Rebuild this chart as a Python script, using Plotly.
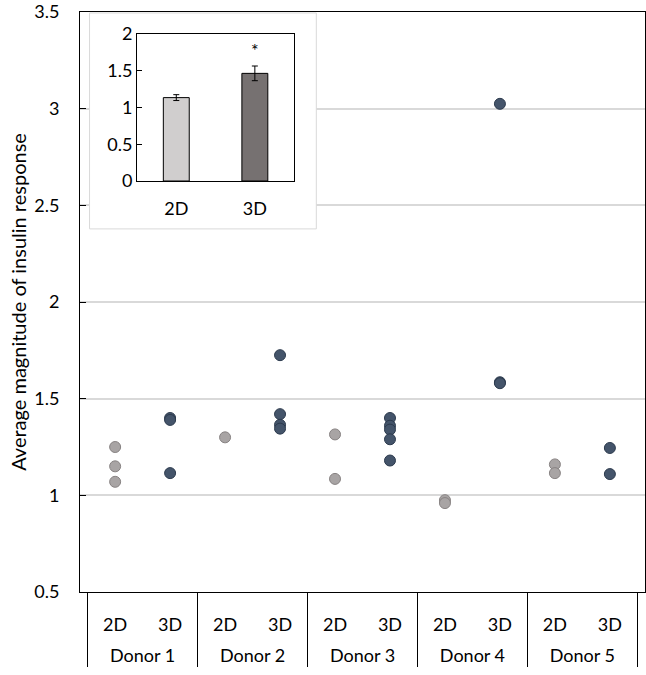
import plotly.graph_objects as go

# main chart: individual replicate values per donor and culture type
donors = ["Donor 1", "Donor 2", "Donor 3", "Donor 4", "Donor 5"]
kinds = ["2D", "3D"]
vals_2d = {
    "Donor 1": [1.25, 1.15, 1.07],
    "Donor 2": [1.30],
    "Donor 3": [1.315, 1.085],
    "Donor 4": [0.975, 0.96],
    "Donor 5": [1.16, 1.115],
}
vals_3d = {
    "Donor 1": [1.40, 1.39, 1.115],
    "Donor 2": [1.725, 1.42, 1.365, 1.345],
    "Donor 3": [1.40, 1.36, 1.34, 1.29, 1.18],
    "Donor 4": [3.025, 1.585, 1.58],
    "Donor 5": [1.245, 1.11],
}

# inset: mean response with error
inset_cats = ["2D", "3D"]
inset_means = [1.135, 1.465]
inset_err = [0.04, 0.1]

FONT = "Lato"

# trailing blank line gives the donor row more room below the 2D/3D row
inner_lbl = {k: k + "<br> " for k in kinds}


def points(vals, kind):
    outer, inner, ys = [], [], []
    for d in donors:
        for v in vals[d]:
            outer.append(d)
            inner.append(inner_lbl[kind])
            ys.append(v)
    return [outer, inner], ys


fig = go.Figure()

# invisible trace to fix the category order 2D,3D within each donor
order_x = [[d for d in donors for _ in kinds],
           [inner_lbl[k] for k in kinds] * len(donors)]
fig.add_trace(go.Scatter(x=order_x, y=[None] * len(order_x[0]),
                         mode="markers", showlegend=False, hoverinfo="skip"))

x2, y2 = points(vals_2d, "2D")
fig.add_trace(go.Scatter(x=x2, y=y2, mode="markers", showlegend=False,
                         marker=dict(size=11, color="#A8A4A4",
                                     line=dict(color="#878282", width=1))))
x3, y3 = points(vals_3d, "3D")
fig.add_trace(go.Scatter(x=x3, y=y3, mode="markers", showlegend=False,
                         marker=dict(size=11, color="#44546A",
                                     line=dict(color="#2C3A4D", width=1))))

# inset bar chart
fig.add_trace(go.Bar(x=inset_cats, y=inset_means, xaxis="x2", yaxis="y2",
                     showlegend=False,
                     marker=dict(color=["#D0CECE", "#767171"],
                                 line=dict(color="black", width=1)),
                     error_y=dict(type="data", array=inset_err, color="black",
                                  thickness=1, width=3)))

fig.add_annotation(x=1, y=1.78, xref="x2", yref="y2", text="*",
                   showarrow=False, font=dict(size=18, color="black"))

# white frame behind the inset hiding the main gridlines
fig.add_shape(type="rect", xref="x", yref="y",
              x0=-0.465, x1=3.66, y0=2.378, y1=3.495,
              fillcolor="white", line=dict(color="#D9D9D9", width=1),
              layer="between")

fig.update_layout(
    width=646, height=675,
    margin=dict(l=80, r=1, t=12, b=83),
    paper_bgcolor="white", plot_bgcolor="white",
    font=dict(family=FONT, size=18, color="black"),
    bargap=0.67,
    xaxis=dict(type="multicategory", domain=[0, 1], showline=True,
               linecolor="black", linewidth=1, mirror=True,
               showgrid=False, zeroline=False, automargin=False,
               ticklabelstandoff=16,
               dividercolor="black", dividerwidth=1, showdividers=True,
               tickfont=dict(size=18)),
    yaxis=dict(range=[0.5, 3.5], dtick=0.5, showline=True, linecolor="black",
               linewidth=1, mirror=True, showgrid=True, gridcolor="#D9D9D9",
               gridwidth=1.5, zeroline=False, ticks="inside", ticklen=6,
               tickcolor="black", tickfont=dict(size=18), automargin=False,
               ticklabelstandoff=16,
               title=dict(text="Average magnitude of insulin response",
                          font=dict(size=20), standoff=2)),
    xaxis2=dict(domain=[0.1009, 0.379], anchor="y2", showline=True,
                linecolor="black", linewidth=1, mirror=True, showgrid=False,
                ticks="outside", ticklen=11, tickcolor="rgba(0,0,0,0)",
                tickfont=dict(size=18), automargin=False),
    yaxis2=dict(domain=[0.7086, 0.962], anchor="x2", range=[0, 2], dtick=0.5,
                showline=True, linecolor="black", linewidth=1, mirror=True,
                showgrid=False, zeroline=False, ticks="inside", ticklen=5,
                tickcolor="black", tickfont=dict(size=18), automargin=False),
)

# drop the default page margin so the figure sits at the window corner
fig.write_html("out.html", config={"displayModeBar": False},
               post_script="document.body.style.margin='0';")
